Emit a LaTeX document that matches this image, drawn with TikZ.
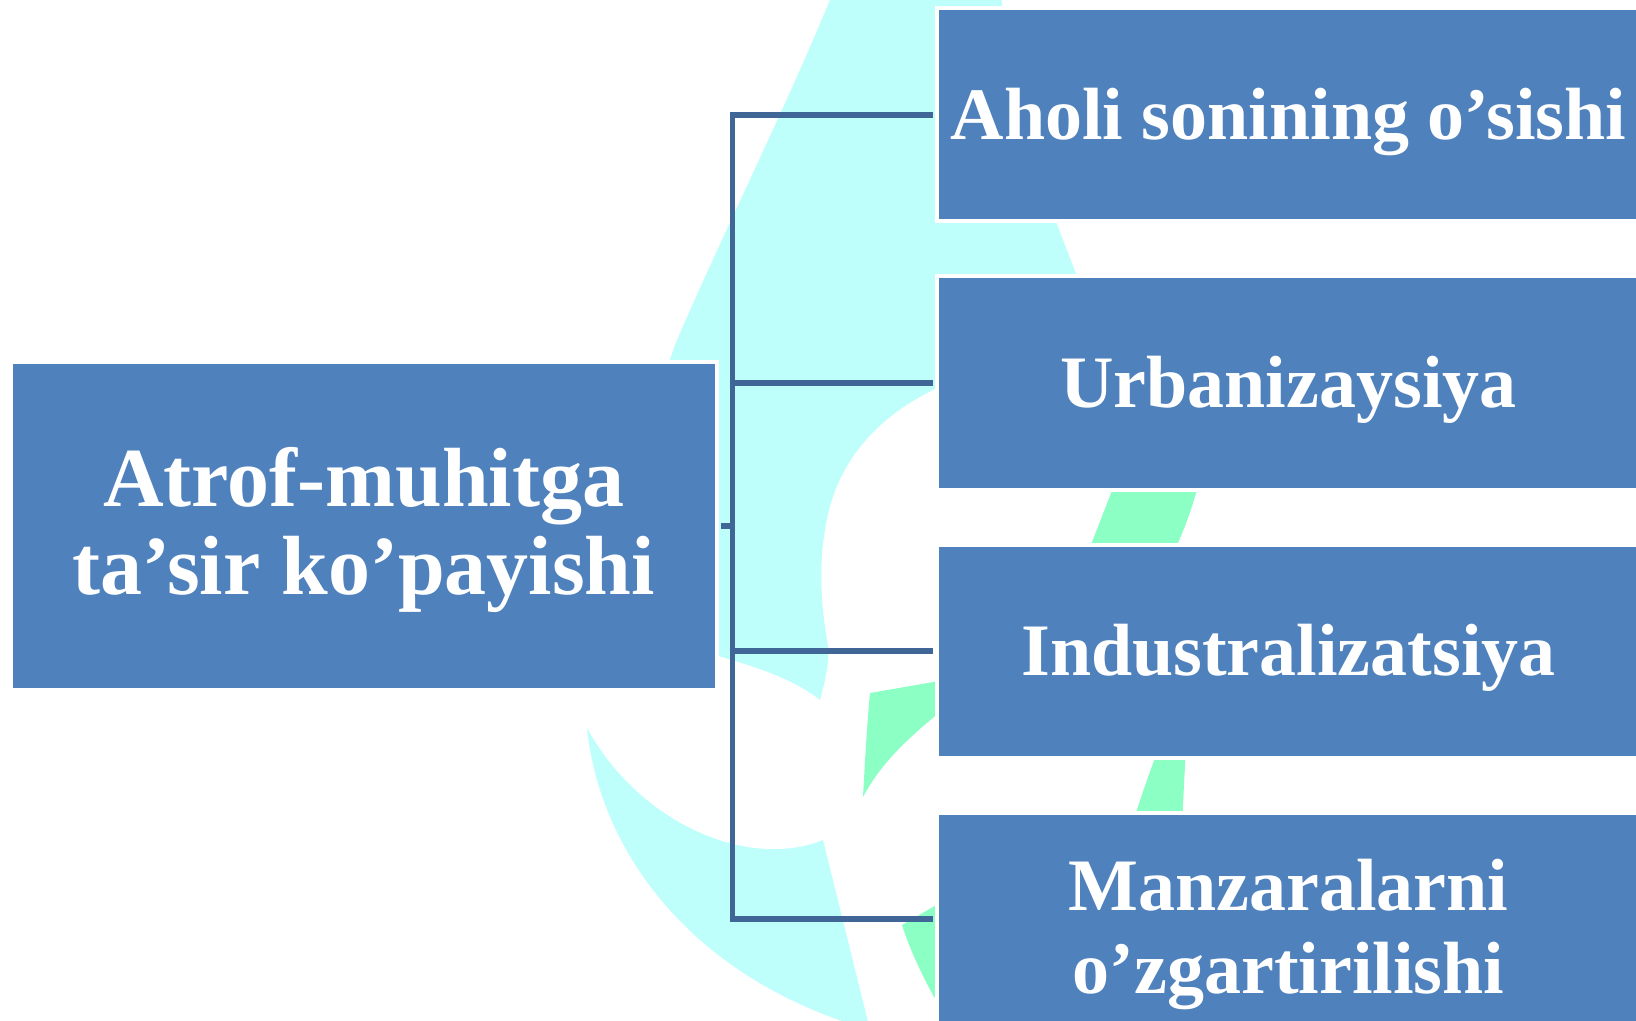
\documentclass[tikz,border=0pt]{standalone}
\usepackage{fontspec}
\setmainfont{Liberation Serif}
\usetikzlibrary{positioning}
\definecolor{boxblue}{RGB}{79,129,189}
\definecolor{linkblue}{RGB}{63,102,150}
\definecolor{wmcyan}{RGB}{190,255,252}
\definecolor{wmgreen}{RGB}{140,255,196}

\tikzset{
  mainbox/.style={fill=boxblue, draw=white, line width=2pt, outer sep=2pt, inner sep=0pt,
    text=white, font=\fontsize{42}{44}\selectfont\bfseries, align=center,
    minimum width=353pt, minimum height=164pt},
  itembox/.style={fill=boxblue, draw=white, line width=2pt, outer sep=2pt, inner sep=0pt,
    text=white, font=\fontsize{37}{41.5}\selectfont\bfseries, align=center,
    minimum width=351.5pt, minimum height=106.5pt},
  oneline/.style={text height=24.4pt, text depth=0pt},
  link/.style={draw=linkblue, line width=2.6pt}
}

\begin{document}
\begin{tikzpicture}[x=0.5pt, y=-0.5pt]
  \useasboundingbox (0,0) rectangle (1636,1021);
  \clip (0,0) rectangle (1636,1021);
  \fill[white] (0,0) rectangle (1636,1021);

  % watermark behind the diagram
  \fill[wmcyan] (835,-10) -- (830,0) .. controls (780,120) and (720,240) .. (677,340)
    .. controls (640,430) and (640,600) .. (715,655)
    .. controls (760,668) and (795,680) .. (820,700)
    .. controls (828,670) and (830,655) .. (827,640)
    .. controls (822,610) and (818,570) .. (825,530)
    .. controls (835,460) and (880,415) .. (937,388)
    .. controls (1040,360) and (1090,330) .. (1078,279)
    -- (1055,219) .. controls (1030,150) and (1010,60) .. (1000,-10) -- cycle;
  \fill[wmcyan] (587,728) .. controls (598,840) and (680,975) .. (870,1030)
    -- (823,840) .. controls (750,870) and (640,825) .. (587,728) -- cycle;
  \fill[wmgreen] (870,693) -- (945,680) -- (945,708)
    .. controls (905,740) and (880,765) .. (863,797)
    .. controls (865,760) and (867,725) .. (870,693) -- cycle;
  \fill[wmgreen] (1120,470) -- (1202,470) .. controls (1195,500) and (1185,530) .. (1170,560)
    -- (1085,560) -- cycle;
  \fill[wmgreen] (1160,745) -- (1186,745) -- (1182,825) -- (1132,825)
    .. controls (1140,800) and (1150,770) .. (1160,745) -- cycle;
  \fill[wmgreen] (902,925) -- (945,900) -- (945,1005) -- (934,997)
    .. controls (922,975) and (910,950) .. (902,925) -- cycle;

  % boxes
  \node[mainbox] (root) at (363.75,526) {\rule{0pt}{0.81em}Atrof-muhitga\\ta’sir ko’payishi};
  \node[itembox, oneline, anchor=west] (b1) at (933,115) {Aholi sonining o’sishi};
  \node[itembox, oneline, below=23.5pt of b1] (b2) {Urbanizaysiya};
  \node[itembox, oneline, below=23.5pt of b2] (b3) {Industralizatsiya};
  \node[itembox, below=23.5pt of b3] (b4) {\rule{0pt}{1.1em}Manzaralarni\\o’zgartirilishi};
  \coordinate[right=6pt of root] (bus);

  % bracket
  \draw[link] (root.east) -- (bus);
  \draw[link] (b1.west) -- (b1.west -| bus) -- (b4.west -| bus) -- (b4.west);
  \draw[link] (b2.west -| bus) -- (b2.west);
  \draw[link] (b3.west -| bus) -- (b3.west);
\end{tikzpicture}
\end{document}
